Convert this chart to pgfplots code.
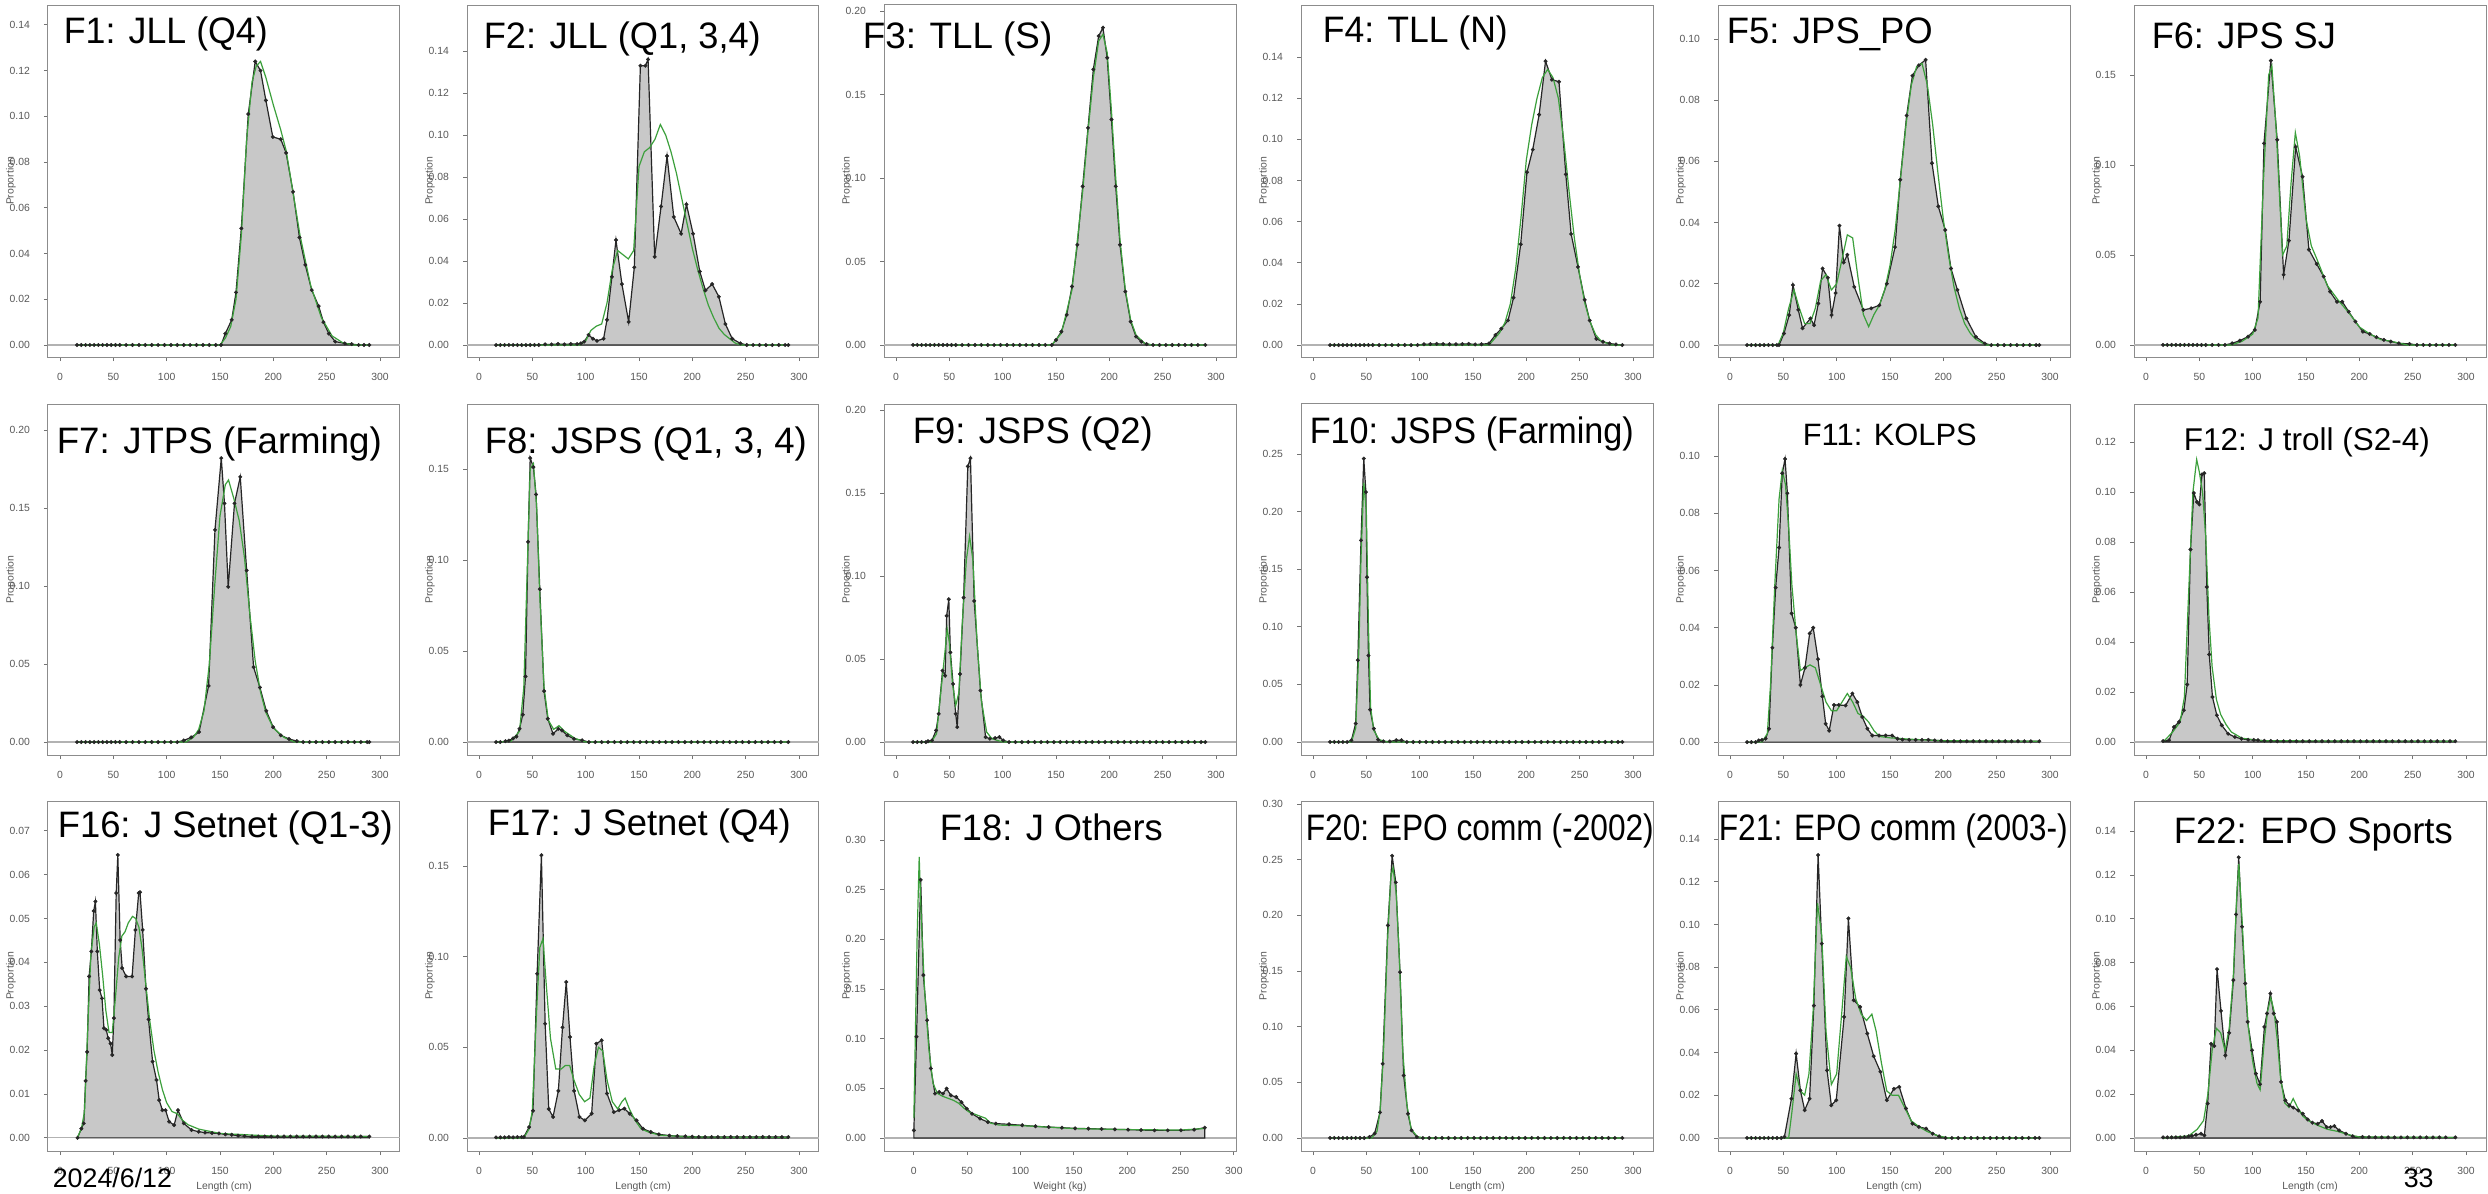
\documentclass[border=0pt]{standalone}
\usepackage{fontspec}
\setmainfont{Liberation Sans}
\usepackage{graphicx}
\usepackage{pgfplots}
\pgfplotsset{compat=1.18}
\definecolor{pgreen}{RGB}{60,160,60}
\definecolor{obsfill}{RGB}{200,200,200}
\newcommand\tf{\fontsize{2.6}{3}\selectfont}
\newcommand\ttf{\fontsize{9.2}{11}\selectfont}
\pgfplotsset{
  panel/.style={
    scale only axis, width=88pt, anchor=south west,
    xmin=-11.25, xmax=318.75, xtick={0,50,100,150,200,250,300},
    tick align=outside, xtick pos=left, ytick pos=left,
    major tick length=1pt,
    axis line style={black!45, line width=0.25pt},
    tick style={black!55, line width=0.2pt},
    tick label style={font=\tf, text=black!65},
    /pgf/number format/assume math mode=true,
    scaled y ticks=false,
    yticklabel style={/pgf/number format/fixed, /pgf/number format/fixed zerofill, /pgf/number format/precision=2},
    xticklabel style={yshift=0.4pt},
    ylabel={Proportion},
    ylabel style={font=\tf, text=black!65, at={(axis description cs:-0.105,0.5)}, anchor=center},
  },
  xl/.style={xlabel={#1}, xlabel style={font=\tf, text=black!65, at={(axis description cs:0.5,-0.103)}, anchor=center}},
  obs/.style={draw=black!85, line width=0.3pt, fill=obsfill, mark=*, mark size=0.45pt, mark options={fill=black!85, draw=black!85, line width=0.1pt, solid}},
  pred/.style={draw=pgreen, line width=0.3pt, mark=none},
}
\newcommand\zl{\draw[black!30,line width=0.3pt] ({rel axis cs:0,0}|-{axis cs:0,0}) -- ({rel axis cs:1,0}|-{axis cs:0,0});}
\begin{document}
\begin{tikzpicture}
\path[use as bounding box] (0pt,0pt) rectangle (622pt,298.25pt);
\fill[white] (0pt,0pt) rectangle (622pt,298.25pt);

% ---------------- Row 1 ----------------
\begin{axis}[panel, height=88pt, at={(12pt,209pt)}, ymin=-0.00525, ymax=0.1487, ytick={0,0.02,0.04,0.06,0.08,0.10,0.12,0.14}]
\zl
\addplot[obs] coordinates {(16,0)(20,0)(24,0)(28,0)(32,0)(36,0)(40,0)(44,0)(48,0)(52,0)(56,0)(62,0)(68,0)(74,0)(80,0)(86,0)(92,0)(98,0)(104,0)(110,0)(116,0)(122,0)(128,0)(134,0)(140,0)(146,0)(151,0)(155,0.005)(161,0.011)(165,0.023)(170,0.051)(176.5,0.101)(183,0.124)(188,0.120)(193,0.107)(199.5,0.091)(207,0.090)(212,0.084)(218.5,0.067)(224.5,0.047)(230,0.035)(236,0.024)(242.5,0.017)(247,0.010)(252,0.005)(258,0.0015)(267,0.0007)(273.5,0.0004)(280,0)(285,0)(290,0)} \closedcycle;
\addplot[pred] coordinates {(16,0)(150,0)(155,0.003)(160,0.008)(165,0.02)(170,0.048)(175,0.09)(180,0.115)(184,0.122)(188,0.124)(193,0.117)(200,0.105)(207,0.094)(212,0.085)(218,0.068)(225,0.048)(235,0.026)(245,0.012)(255,0.004)(265,0.001)(275,0)(290,0)};
\end{axis}

\begin{axis}[panel, height=88pt, at={(116.75pt,209pt)}, ymin=-0.0057, ymax=0.1619, ytick={0,0.02,0.04,0.06,0.08,0.10,0.12,0.14}]
\zl
\addplot[obs] coordinates {(16,0)(20,0)(24,0)(28,0)(32,0)(36,0)(40,0)(44,0)(48,0)(52,0)(56,0)(62,0.0003)(68,0.0003)(74,0.0005)(80,0.0003)(86,0.0005)(92,0.0005)(95.5,0.0008)(98.6,0.0016)(102.7,0.0048)(106.8,0.003)(110.6,0.002)(116.8,0.003)(120,0.012)(124.6,0.0325)(128.4,0.050)(134,0.029)(140.3,0.011)(145.6,0.037)(151.3,0.133)(156,0.133)(158.5,0.136)(164.7,0.042)(170.7,0.066)(176.3,0.090)(182.6,0.061)(189.5,0.053)(194.5,0.067)(200.7,0.053)(207,0.035)(212.3,0.026)(218.6,0.029)(224.9,0.023)(231,0.010)(237.4,0.003)(245,0.0008)(251,0)(257,0)(263,0)(269,0)(275,0)(281,0)(287,0)(290,0)} \closedcycle;
\addplot[pred] coordinates {(16,0)(95,0)(100,0.002)(105,0.007)(110,0.009)(115,0.01)(120,0.02)(125,0.036)(130,0.045)(135,0.043)(140,0.041)(145,0.045)(150,0.085)(155,0.092)(160,0.094)(165,0.098)(170,0.105)(175,0.100)(180,0.092)(185,0.082)(190,0.070)(195,0.058)(200,0.046)(205,0.036)(210,0.027)(215,0.019)(220,0.013)(225,0.008)(230,0.005)(235,0.003)(240,0.001)(245,0)(290,0)};
\end{axis}

\begin{axis}[panel, height=88pt, at={(221pt,209pt)}, ymin=-0.0072, ymax=0.2036, ytick={0,0.05,0.10,0.15,0.20}]
\zl
\addplot[obs] coordinates {(16,0)(20,0)(24,0)(28,0)(32,0)(36,0)(40,0)(44,0)(48,0)(52,0)(56,0)(62,0)(68,0)(74,0)(80,0)(86,0)(92,0)(98,0)(104,0)(110,0)(116,0)(122,0)(128,0)(134,0)(140,0)(146,0)(150,0.003)(155,0.008)(160,0.018)(165,0.035)(170,0.06)(175,0.095)(180,0.13)(185,0.165)(190,0.185)(194,0.19)(198,0.172)(202,0.135)(206,0.095)(210,0.06)(215,0.032)(220,0.014)(225,0.005)(230,0.002)(235,0.0005)(241,0)(247,0)(253,0)(259,0)(265,0)(271,0)(277,0)(283,0)(290,0)} \closedcycle;
\addplot[pred] coordinates {(16,0)(146,0)(155,0.007)(165,0.033)(175,0.092)(180,0.128)(185,0.16)(190,0.182)(194,0.186)(198,0.175)(202,0.14)(206,0.1)(210,0.063)(215,0.033)(220,0.015)(225,0.006)(233,0.001)(240,0)(290,0)};
\end{axis}

\begin{axis}[panel, height=88pt, at={(325.25pt,209pt)}, ymin=-0.0058, ymax=0.1653, ytick={0,0.02,0.04,0.06,0.08,0.10,0.12,0.14}]
\zl
\addplot[obs] coordinates {(16,0)(20,0)(24,0)(28,0)(32,0)(36,0)(40,0)(44,0)(48,0)(52,0)(56,0)(62,0)(68,0)(74,0)(80,0)(86,0)(92,0)(98,0)(104,0.0004)(110,0.0005)(116,0.0006)(122,0.0005)(128,0.0004)(134,0.0004)(140,0.0005)(146,0.0006)(152,0.0003)(158,0.0004)(165,0.0008)(171,0.0049)(176.6,0.008)(182.8,0.012)(188,0.023)(194.7,0.049)(200.6,0.084)(206,0.095)(212,0.112)(218,0.138)(224,0.129)(230.6,0.128)(237,0.083)(242,0.054)(248.4,0.038)(254.7,0.022)(259.4,0.012)(265.6,0.003)(271.9,0.0016)(278,0.0008)(284,0.0003)(290,0)} \closedcycle;
\addplot[pred] coordinates {(16,0)(165,0)(170,0.003)(175,0.006)(180,0.011)(185,0.02)(190,0.037)(195,0.062)(200,0.09)(205,0.107)(210,0.120)(215,0.130)(220,0.134)(225,0.130)(230,0.120)(235,0.100)(240,0.075)(245,0.052)(250,0.034)(255,0.020)(260,0.011)(265,0.005)(270,0.002)(280,0)(290,0)};
\end{axis}

\begin{axis}[panel, height=88pt, at={(429.5pt,209pt)}, ymin=-0.0039, ymax=0.1111, ytick={0,0.02,0.04,0.06,0.08,0.10}]
\zl
\addplot[obs] coordinates {(16,0)(20,0)(24,0)(28,0)(32,0)(36,0)(40,0)(44,0)(46,0)(50.6,0.0038)(55.5,0.0098)(59,0.0196)(64,0.0115)(68,0.0055)(75.4,0.0087)(78.8,0.0065)(82.8,0.0136)(86.8,0.025)(91.7,0.022)(95.2,0.0098)(99,0.017)(102.6,0.039)(106.6,0.027)(110,0.0295)(116.5,0.019)(125,0.0115)(132.4,0.012)(140,0.013)(147,0.020)(154.7,0.032)(159.6,0.054)(165.6,0.075)(171,0.088)(177,0.0914)(183.4,0.0932)(189.4,0.0594)(195.3,0.0453)(201.8,0.0376)(207.2,0.025)(213.2,0.018)(221.6,0.0087)(230.5,0.0027)(239,0.0005)(245,0)(251,0)(257,0)(263,0)(269,0)(275,0)(281,0)(287,0)(290,0)} \closedcycle;
\addplot[pred] coordinates {(16,0)(45,0)(50,0.004)(55,0.012)(60,0.018)(65,0.012)(70,0.007)(75,0.007)(80,0.012)(85,0.021)(90,0.023)(95,0.018)(100,0.020)(105,0.028)(110,0.036)(115,0.035)(120,0.022)(125,0.010)(130,0.006)(135,0.010)(140,0.013)(145,0.018)(150,0.026)(155,0.038)(160,0.055)(165,0.072)(170,0.085)(175,0.091)(180,0.092)(185,0.085)(190,0.072)(195,0.056)(200,0.041)(205,0.029)(210,0.019)(215,0.012)(220,0.007)(225,0.004)(230,0.002)(240,0)(290,0)};
\end{axis}

\begin{axis}[panel, height=88pt, at={(533.5pt,209pt)}, ymin=-0.0067, ymax=0.1889, ytick={0,0.05,0.10,0.15}]
\zl
\addplot[obs] coordinates {(16,0)(20,0)(24,0)(28,0)(32,0)(36,0)(40,0)(44,0)(48,0)(52,0)(56,0)(62,0)(68,0)(74,0)(80.8,0.0009)(88,0.0024)(95.7,0.0046)(102,0.0083)(107,0.024)(110.6,0.112)(117,0.158)(123,0.114)(129,0.039)(134,0.058)(140.3,0.110)(146.8,0.0935)(152.7,0.053)(160,0.045)(166.6,0.038)(172.5,0.0296)(179,0.024)(184,0.024)(190,0.0185)(196.3,0.013)(203.3,0.0074)(209.7,0.0061)(216,0.0043)(223,0.0028)(229.5,0.0019)(237,0.0009)(247,0.0006)(254,0)(260,0)(266,0)(272,0)(278,0)(284,0)(290,0)} \closedcycle;
\addplot[pred] coordinates {(16,0)(80,0)(90,0.002)(100,0.006)(105,0.015)(110,0.09)(115,0.15)(118,0.155)(122,0.12)(128,0.05)(132,0.055)(136,0.09)(140,0.118)(144,0.105)(150,0.07)(155,0.055)(160,0.048)(170,0.033)(180,0.025)(190,0.018)(200,0.010)(210,0.006)(220,0.003)(230,0.002)(245,0)(290,0)};
\end{axis}

% ---------------- Row 2 ----------------
\begin{axis}[panel, height=87.75pt, at={(12pt,109.5pt)}, ymin=-0.0083, ymax=0.2167, ytick={0,0.05,0.10,0.15,0.20}]
\zl
\addplot[obs] coordinates {(16,0)(20,0)(24,0)(28,0)(32,0)(36,0)(40,0)(44,0)(48,0)(52,0)(56,0)(62,0)(68,0)(74,0)(80,0)(86,0)(92,0)(98,0)(104,0)(110,0)(116,0.001)(123,0.003)(130.4,0.0064)(139.3,0.036)(145.3,0.136)(151.2,0.182)(154.2,0.153)(157.7,0.0995)(163.6,0.153)(169,0.170)(175,0.110)(181.5,0.048)(187.4,0.035)(193.4,0.020)(199.8,0.0096)(207,0.0043)(214.7,0.002)(222,0.0006)(228,0)(234,0)(240,0)(246,0)(252,0)(258,0)(264,0)(270,0)(276,0)(282,0)(288,0)(290,0)} \closedcycle;
\addplot[pred] coordinates {(16,0)(118,0)(125,0.003)(130,0.008)(135,0.02)(140,0.05)(145,0.10)(150,0.145)(155,0.165)(158,0.168)(163,0.156)(168,0.142)(173,0.118)(178,0.082)(183,0.052)(188,0.032)(193,0.019)(200,0.009)(210,0.003)(220,0)(290,0)};
\end{axis}

\begin{axis}[panel, height=87.75pt, at={(116.75pt,109.5pt)}, ymin=-0.0071, ymax=0.1857, ytick={0,0.05,0.10,0.15}]
\zl
\addplot[obs] coordinates {(16,0)(20,0)(24.8,0.0005)(28,0.0008)(32,0.002)(35,0.003)(38,0.0073)(41,0.015)(43.6,0.036)(46,0.11)(48,0.156)(51,0.151)(53.5,0.136)(57,0.084)(61,0.028)(64.5,0.0128)(69.4,0.0046)(74.4,0.0073)(77.8,0.0064)(82.8,0.0037)(89,0.0018)(96.7,0.001)(103,0)(109,0)(115,0)(121,0)(127,0)(133,0)(139,0)(145,0)(151,0)(157,0)(163,0)(169,0)(175,0)(181,0)(187,0)(193,0)(199,0)(205,0)(211,0)(217,0)(223,0)(229,0)(235,0)(241,0)(247,0)(253,0)(259,0)(265,0)(271,0)(277,0)(283,0)(290,0)} \closedcycle;
\addplot[pred] coordinates {(16,0)(30,0.0005)(38,0.006)(42,0.03)(45,0.09)(48,0.15)(51,0.153)(54,0.13)(57,0.08)(61,0.03)(65,0.012)(70,0.007)(75,0.009)(80,0.006)(90,0.002)(100,0)(290,0)};
\end{axis}

\begin{axis}[panel, height=87.75pt, at={(221pt,109.5pt)}, ymin=-0.0078, ymax=0.2036, ytick={0,0.05,0.10,0.15,0.20}]
\zl
\addplot[obs] coordinates {(16,0)(20,0)(24,0)(28,0)(30,0.0005)(33.7,0.001)(37.6,0.007)(40,0.017)(43.6,0.043)(46,0.040)(47.5,0.076)(49.5,0.086)(51,0.054)(53.5,0.035)(56,0.017)(57.4,0.009)(60,0.041)(63.4,0.087)(67.3,0.166)(69.8,0.171)(73.3,0.085)(79.2,0.031)(84,0.003)(88,0.002)(93,0.0024)(97,0.003)(100.5,0.001)(106,0)(112,0)(118,0)(124,0)(130,0)(136,0)(142,0)(148,0)(154,0)(160,0)(166,0)(172,0)(178,0)(184,0)(190,0)(196,0)(202,0)(208,0)(214,0)(220,0)(226,0)(232,0)(238,0)(244,0)(250,0)(256,0)(262,0)(268,0)(274,0)(280,0)(286,0)(290,0)} \closedcycle;
\addplot[pred] coordinates {(16,0)(33,0)(38,0.005)(42,0.03)(46,0.055)(48,0.068)(50,0.06)(53,0.035)(56,0.022)(59,0.03)(62,0.07)(66,0.11)(69,0.124)(72,0.11)(76,0.06)(80,0.025)(85,0.006)(90,0.002)(100,0)(290,0)};
\end{axis}

\begin{axis}[panel, height=87.75pt, at={(325.25pt,109.5pt)}, ymin=-0.0113, ymax=0.2934, ytick={0,0.05,0.10,0.15,0.20,0.25}]
\zl
\addplot[obs] coordinates {(16,0)(20,0)(24,0)(28,0)(32,0)(36,0.0015)(40,0.016)(42,0.071)(45,0.175)(47.6,0.246)(49.6,0.217)(50.6,0.143)(52,0.075)(53.5,0.028)(57,0.0116)(61,0.002)(66,0.0005)(72,0.0005)(78,0.0015)(83,0.0015)(88,0)(94,0)(100,0)(106,0)(112,0)(118,0)(124,0)(130,0)(136,0)(142,0)(148,0)(154,0)(160,0)(166,0)(172,0)(178,0)(184,0)(190,0)(196,0)(202,0)(208,0)(214,0)(220,0)(226,0)(232,0)(238,0)(244,0)(250,0)(256,0)(262,0)(268,0)(274,0)(280,0)(286,0)(290,0)} \closedcycle;
\addplot[pred] coordinates {(16,0)(36,0)(40,0.012)(43,0.08)(45,0.16)(47.6,0.225)(50,0.20)(52,0.1)(54,0.03)(57,0.01)(62,0.002)(70,0)(290,0)};
\end{axis}

\begin{axis}[panel, height=87.75pt, at={(429.5pt,109.5pt)}, ymin=-0.0045, ymax=0.1182, ytick={0,0.02,0.04,0.06,0.08,0.10}]
\zl
\addplot[obs] coordinates {(16,0)(20,0)(24,0)(27,0.0006)(30,0.0008)(33.4,0.0012)(36.6,0.0047)(39.7,0.033)(42.8,0.054)(46,0.068)(49,0.094)(51.6,0.099)(53.8,0.087)(57.8,0.045)(61.6,0.040)(66,0.020)(70.3,0.026)(74.7,0.038)(78,0.040)(82.5,0.029)(86.6,0.016)(89.7,0.0064)(93,0.004)(97.5,0.013)(102,0.013)(108.4,0.0128)(114.7,0.017)(119.4,0.014)(124,0.0088)(128.8,0.0047)(133.4,0.0023)(139.7,0.0023)(146,0.0023)(152,0.0023)(157,0.0012)(161.6,0.0009)(168,0.0008)(174,0.0008)(180,0.0008)(186,0.0008)(192,0.0006)(198,0.0005)(204,0.0003)(210,0.0003)(216,0.0003)(222,0.0003)(228,0.0003)(234,0.0003)(240,0.0003)(246,0.0003)(252,0.0003)(258,0.0003)(264,0.0003)(270,0.0003)(276,0.0003)(282,0.0003)(290,0.0003)} \closedcycle;
\addplot[pred] coordinates {(16,0)(30,0)(35,0.003)(38,0.02)(42,0.055)(46,0.085)(49,0.095)(52,0.09)(55,0.075)(58,0.055)(62,0.038)(66,0.025)(70,0.026)(75,0.027)(80,0.026)(85,0.02)(90,0.014)(95,0.011)(100,0.011)(105,0.014)(110,0.017)(115,0.014)(120,0.010)(125,0.009)(130,0.007)(135,0.004)(140,0.002)(150,0.0015)(170,0.001)(200,0.0005)(290,0.0003)};
\end{axis}

\begin{axis}[panel, height=87.75pt, at={(533.5pt,109.5pt)}, ymin=-0.0052, ymax=0.1352, ytick={0,0.02,0.04,0.06,0.08,0.10,0.12}]
\zl
\addplot[obs] coordinates {(16,0.0004)(21.6,0.0007)(26.2,0.006)(30.9,0.008)(35.5,0.0127)(38.6,0.023)(41.7,0.077)(44.8,0.0996)(47.8,0.096)(50,0.095)(52.5,0.107)(54.6,0.1075)(57,0.062)(59.3,0.035)(62.3,0.018)(66.4,0.0107)(71,0.0067)(77,0.0033)(83.3,0.002)(89.5,0.0013)(95.7,0.0009)(101,0.0008)(105,0.0007)(111,0.0005)(117,0.0004)(123,0.0003)(129,0.0003)(135,0.0003)(141,0.0003)(147,0.0003)(153,0.0003)(159,0.0003)(165,0.0003)(171,0.0003)(177,0.0003)(183,0.0003)(189,0.0003)(195,0.0003)(201,0.0003)(207,0.0003)(213,0.0003)(219,0.0003)(225,0.0003)(231,0.0003)(237,0.0003)(243,0.0003)(249,0.0003)(255,0.0003)(261,0.0003)(267,0.0003)(273,0.0003)(279,0.0003)(285,0.0003)(290,0.0003)} \closedcycle;
\addplot[pred] coordinates {(16,0)(25,0.004)(32,0.008)(36,0.018)(40,0.06)(44,0.1)(47.5,0.113)(50,0.108)(53,0.1)(56,0.082)(59,0.05)(62,0.03)(66,0.017)(70,0.011)(75,0.007)(80,0.004)(90,0.0015)(110,0.0005)(290,0.0003)};
\end{axis}

% ---------------- Row 3 ----------------
\begin{axis}[panel, xl={Length (cm)}, height=87.5pt, at={(12pt,10.5pt)}, ymin=-0.003, ymax=0.0768, ytick={0,0.01,0.02,0.03,0.04,0.05,0.06,0.07}]
\zl
\addplot[obs] coordinates {(16.4,0)(20,0.0021)(22.3,0.0033)(24,0.013)(25.4,0.0196)(27.3,0.0368)(29.4,0.0425)(31.6,0.0517)(33.2,0.0539)(35,0.0425)(37.2,0.0337)(39.4,0.0318)(41.2,0.025)(43.4,0.0246)(45.2,0.0227)(47.4,0.0215)(49,0.0189)(50.5,0.0273)(52.7,0.0558)(54.2,0.0645)(56.4,0.0451)(58.3,0.0387)(62,0.0368)(67.6,0.0368)(70.7,0.0474)(73.8,0.0558)(75,0.056)(77.5,0.0474)(80.6,0.034)(83,0.027)(86.8,0.0174)(90.5,0.0132)(93,0.0086)(96,0.0063)(99,0.0063)(102.3,0.0037)(107,0.0029)(110.6,0.0063)(116,0.0033)(123.3,0.0018)(130,0.0014)(136,0.0012)(142.6,0.0011)(149,0.0010)(155,0.0008)(161,0.0007)(167,0.0005)(173,0.0004)(180,0.0003)(186,0.0003)(192,0.0003)(198,0.0003)(204,0.0003)(210,0.0003)(216,0.0003)(222,0.0003)(228,0.0003)(234,0.0003)(240,0.0003)(246,0.0003)(252,0.0003)(258,0.0003)(264,0.0003)(270,0.0003)(276,0.0003)(282,0.0003)(290,0.0003)} \closedcycle;
\addplot[pred] coordinates {(16,0)(20,0.002)(23,0.006)(26,0.025)(29,0.042)(32,0.048)(34,0.049)(37,0.044)(40,0.037)(43,0.029)(46,0.024)(49,0.024)(52,0.032)(55,0.041)(58,0.046)(61,0.047)(64,0.049)(68,0.0505)(71,0.05)(74,0.048)(77,0.043)(80,0.036)(84,0.027)(88,0.02)(92,0.015)(96,0.011)(100,0.008)(105,0.006)(110,0.0055)(115,0.004)(120,0.003)(130,0.002)(150,0.001)(200,0.0004)(290,0.0003)};
\end{axis}

\begin{axis}[panel, xl={Length (cm)}, height=87.5pt, at={(116.75pt,10.5pt)}, ymin=-0.0072, ymax=0.1859, ytick={0,0.05,0.10,0.15}]
\zl
\addplot[obs] coordinates {(16,0.0003)(20,0.0003)(24,0.0003)(28,0.0005)(32,0.0003)(36,0.0005)(40,0.0005)(42,0.0005)(47,0.006)(50.6,0.015)(54.5,0.0906)(58.5,0.156)(62,0.063)(65.4,0.016)(69.4,0.0116)(74.4,0.026)(78.3,0.061)(81.8,0.086)(85.3,0.0557)(89.2,0.026)(94.2,0.0116)(99.2,0.0097)(105.6,0.0134)(110,0.052)(115,0.0539)(120,0.0245)(126.4,0.0143)(131.4,0.0153)(136.3,0.0162)(141.3,0.0134)(147.7,0.0097)(153.7,0.0051)(161,0.0033)(168.6,0.002)(178.5,0.0013)(186,0.001)(193.4,0.0009)(200,0.0007)(206,0.0005)(212,0.0005)(218,0.0005)(224,0.0005)(230,0.0005)(236,0.0005)(242,0.0005)(248,0.0005)(254,0.0005)(260,0.0005)(266,0.0005)(272,0.0005)(278,0.0005)(284,0.0005)(290,0.0005)} \closedcycle;
\addplot[pred] coordinates {(16,0)(42,0)(47,0.005)(50,0.015)(54,0.07)(57,0.105)(60,0.11)(63,0.085)(67,0.055)(72,0.038)(77,0.038)(81,0.04)(85,0.04)(89,0.032)(94,0.024)(99,0.02)(104,0.022)(108,0.04)(112,0.05)(116,0.048)(120,0.032)(125,0.02)(130,0.016)(134,0.02)(137,0.022)(141,0.016)(146,0.01)(152,0.005)(160,0.003)(170,0.0015)(200,0.0005)(290,0.0003)};
\end{axis}

\begin{axis}[panel, xl={Weight (kg)}, height=87.5pt, at={(221pt,10.5pt)}, xmin=-28, xmax=302, ymin=-0.0131, ymax=0.3394, ytick={0,0.05,0.10,0.15,0.20,0.25,0.30}]
\zl
\addplot[obs] coordinates {(0,0.0077)(2.5,0.102)(6.4,0.26)(8.9,0.164)(12.4,0.1186)(15.9,0.07)(19.8,0.0447)(23.8,0.0464)(27.3,0.0447)(30.7,0.0497)(34.7,0.043)(39.7,0.0413)(44.6,0.036)(49.6,0.0296)(54.5,0.0245)(62,0.0195)(69.4,0.016)(76.8,0.0145)(89.2,0.0138)(101.6,0.0128)(114,0.0118)(126.4,0.011)(138.8,0.0104)(151.2,0.0097)(163.6,0.0094)(176,0.0091)(188.4,0.0087)(200.8,0.0084)(213,0.008)(225.6,0.0077)(238,0.0077)(250.4,0.0077)(262.8,0.0084)(272.7,0.0104)} \closedcycle;
\addplot[pred] coordinates {(0,0.02)(3,0.2)(5,0.283)(7,0.22)(10,0.15)(14,0.09)(18,0.055)(22,0.045)(27,0.042)(32,0.04)(37,0.038)(42,0.035)(47,0.03)(52,0.026)(57,0.024)(62,0.022)(67,0.02)(72,0.015)(80,0.013)(100,0.0125)(150,0.0095)(200,0.0085)(250,0.008)(272,0.0095)};
\end{axis}

\begin{axis}[panel, xl={Length (cm)}, height=87.5pt, at={(325.25pt,10.5pt)}, ymin=-0.0117, ymax=0.3028, ytick={0,0.05,0.10,0.15,0.20,0.25,0.30}]
\zl
\addplot[obs] coordinates {(16,0)(20,0)(24,0)(28,0)(32,0)(36,0)(40,0)(44,0)(48,0)(53,0.0009)(57.8,0.004)(62.8,0.023)(65.3,0.0667)(70.2,0.191)(74.2,0.2536)(77.6,0.2297)(81.6,0.149)(85,0.0562)(89,0.0218)(92.4,0.0069)(97.4,0.0009)(103,0)(109,0)(115,0)(121,0)(127,0)(133,0)(139,0)(145,0)(151,0)(157,0)(163,0)(169,0)(175,0)(181,0)(187,0)(193,0)(199,0)(205,0)(211,0)(217,0)(223,0)(229,0)(235,0)(241,0)(247,0)(253,0)(259,0)(265,0)(271,0)(277,0)(283,0)(290,0)} \closedcycle;
\addplot[pred] coordinates {(16,0)(55,0)(60,0.006)(63,0.025)(66,0.075)(70,0.18)(73,0.235)(75,0.243)(78,0.22)(81,0.16)(84,0.08)(88,0.03)(92,0.008)(98,0.001)(105,0)(290,0)};
\end{axis}

\begin{axis}[panel, xl={Length (cm)}, height=87.5pt, at={(429.5pt,10.5pt)}, ymin=-0.0061, ymax=0.1578, ytick={0,0.02,0.04,0.06,0.08,0.10,0.12,0.14}]
\zl
\addplot[obs] coordinates {(16,0)(20,0)(24,0)(28,0)(32,0)(36,0)(40,0)(44,0)(48,0)(51,0.0005)(57.6,0.0184)(62,0.0395)(66,0.0223)(70,0.013)(74.6,0.0184)(78.6,0.062)(82.6,0.1325)(86,0.091)(91,0.0317)(95,0.0153)(99.6,0.0177)(107,0.0567)(111,0.1028)(116,0.0645)(122,0.0614)(128.7,0.0489)(134.7,0.0383)(141,0.031)(147,0.0177)(153.7,0.023)(158.7,0.0239)(165,0.0138)(171,0.0067)(177,0.0052)(183.8,0.0044)(190,0.002)(196,0.0008)(202,0)(208,0)(214,0)(220,0)(226,0)(232,0)(238,0)(244,0)(250,0)(256,0)(262,0)(268,0)(274,0)(280,0)(286,0)(290,0)} \closedcycle;
\addplot[pred] coordinates {(16,0)(55,0)(58,0.012)(62,0.03)(66,0.022)(70,0.02)(74,0.03)(78,0.06)(82,0.11)(86,0.095)(90,0.05)(95,0.025)(100,0.03)(105,0.06)(109,0.085)(113,0.08)(118,0.065)(123,0.058)(128,0.055)(133,0.058)(137,0.05)(142,0.035)(147,0.022)(152,0.02)(158,0.02)(163,0.015)(170,0.008)(178,0.005)(185,0.003)(195,0.001)(205,0)(290,0)};
\end{axis}

\begin{axis}[panel, xl={Length (cm)}, height=87.5pt, at={(533.5pt,10.5pt)}, ymin=-0.0059, ymax=0.1537, ytick={0,0.02,0.04,0.06,0.08,0.10,0.12,0.14}]
\zl
\addplot[obs] coordinates {(16,0.0003)(20,0.0003)(24,0.0003)(28,0.0003)(32,0.0003)(36,0.0005)(40,0.0008)(43,0.001)(46.9,0.0015)(51.6,0.002)(54.7,0.0012)(57.8,0.0157)(61,0.043)(64,0.042)(66.6,0.077)(70.3,0.058)(74.4,0.0377)(78,0.048)(81.9,0.072)(84.4,0.102)(86.9,0.128)(90,0.0964)(93,0.0705)(95.3,0.053)(99.4,0.040)(103,0.0294)(106.9,0.0245)(111,0.0507)(113.4,0.0568)(116.6,0.0659)(119.7,0.0568)(122.8,0.053)(126.6,0.0256)(130.6,0.0172)(134.4,0.0149)(138,0.0139)(142.8,0.0126)(146.9,0.0111)(151.6,0.0085)(156,0.007)(161,0.0065)(165,0.0078)(169.4,0.005)(173,0.005)(176.6,0.0055)(181,0.0035)(187.5,0.002)(193.8,0.0008)(203,0.0005)(209,0.0004)(215,0.0003)(221,0.0003)(227,0.0003)(233,0.0003)(239,0.0003)(245,0.0003)(251,0.0003)(257,0.0003)(263,0.0003)(269,0.0003)(275,0.0003)(281,0.0003)(290,0.0003)} \closedcycle;
\addplot[pred] coordinates {(16,0)(40,0.001)(48,0.004)(54,0.008)(58,0.02)(62,0.04)(66,0.05)(70,0.048)(74,0.04)(78,0.05)(82,0.075)(85,0.11)(87,0.125)(90,0.1)(93,0.072)(96,0.05)(100,0.035)(104,0.025)(107,0.022)(111,0.045)(114,0.058)(117,0.064)(120,0.058)(123,0.045)(126,0.028)(130,0.016)(134,0.014)(138,0.018)(142,0.014)(147,0.01)(152,0.008)(160,0.006)(170,0.004)(180,0.003)(190,0.0015)(200,0.0005)(290,0.0003)};
\end{axis}

% ---------------- Titles ----------------
\begin{scope}[every node/.style={anchor=base west, inner sep=0pt, font=\ttf}]
\node at (15.75pt,287.5pt) {\resizebox{51pt}{\height}{F1: JLL (Q4)}};
\node at (120.75pt,286.25pt) {\resizebox{69.25pt}{\height}{F2: JLL (Q1, 3,4)}};
\node at (215.5pt,286.25pt) {F3: TLL (S)};
\node at (330.5pt,287.75pt) {\resizebox{46.25pt}{\height}{F4: TLL (N)}};
\node at (431.5pt,287.5pt) {\resizebox{51.5pt}{\height}{F5: JPS\_PO}};
\node at (537.75pt,286.25pt) {\resizebox{46pt}{\height}{F6: JPS SJ}};
\node at (14pt,185pt) {\resizebox{81.25pt}{\height}{F7: JTPS (Farming)}};
\node at (121pt,185pt) {\resizebox{80.5pt}{\height}{F8: JSPS (Q1, 3, 4)}};
\node at (228pt,187.5pt) {\resizebox{60pt}{\height}{F9: JSPS (Q2)}};
\node at (327.25pt,187.5pt) {\resizebox{81pt}{\height}{F10: JSPS (Farming)}};
\node at (450.5pt,187pt) {\resizebox{43.5pt}{!}{F11: KOLPS}};
\node at (545.75pt,185.75pt) {\resizebox{61.5pt}{!}{F12: J troll (S2-4)}};
\node at (14.25pt,89pt) {\resizebox{83.75pt}{\height}{F16: J Setnet (Q1-3)}};
\node at (121.75pt,89.5pt) {\resizebox{75.75pt}{\height}{F17: J Setnet (Q4)}};
\node at (234.75pt,88.25pt) {\resizebox{55.75pt}{\height}{F18: J Others}};
\node at (326.25pt,88.25pt) {\resizebox{87pt}{\height}{F20: EPO comm (-2002)}};
\node at (429.5pt,88.25pt) {\resizebox{87.25pt}{\height}{F21: EPO comm (2003-)}};
\node at (543.25pt,87.5pt) {\resizebox{69.75pt}{\height}{F22: EPO Sports}};
\end{scope}
\node[anchor=base west, inner sep=0pt, font=\fontsize{6.7}{8}\selectfont] at (13pt,1.5pt) {2024/6/12};
\node[anchor=base west, inner sep=0pt, font=\fontsize{6.7}{8}\selectfont] at (600.75pt,1.5pt) {33};
\end{tikzpicture}
\end{document}
